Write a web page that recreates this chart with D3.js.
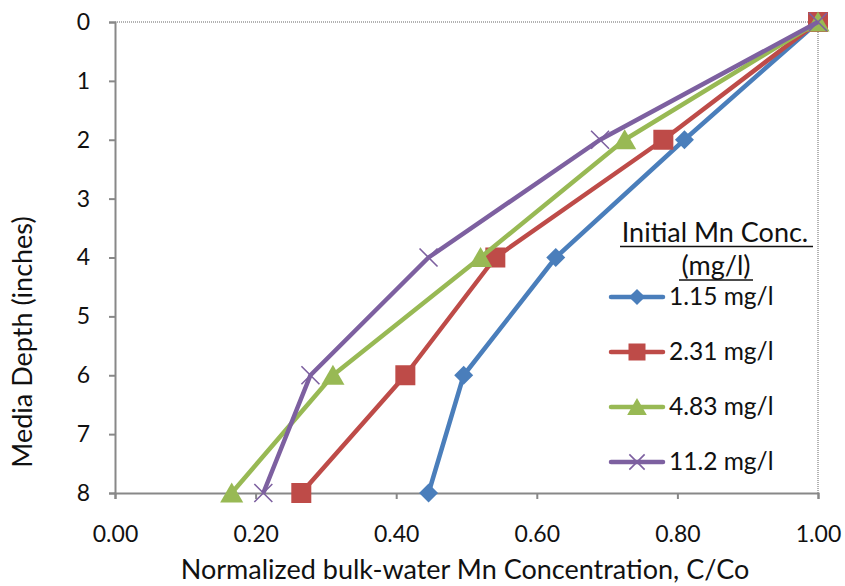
<!DOCTYPE html>
<html>
<head>
<meta charset="utf-8">
<script src="https://cdn.jsdelivr.net/npm/d3@7"></script>
<style>
  body { margin: 0; background: #fff; }
  svg { font-family: Lato, "Open Sans", sans-serif; }
</style>
</head>
<body>
<script>
const depths = [0, 2, 4, 6, 8];
const seriesNames = ["1.15 mg/l", "2.31 mg/l", "4.83 mg/l", "11.2 mg/l"];
const conc115 = [1.0, 0.81, 0.627, 0.496, 0.446];
const conc231 = [1.0, 0.78, 0.541, 0.413, 0.265];
const conc483 = [1.0, 0.725, 0.52, 0.31, 0.166];
const conc112 = [1.0, 0.69, 0.446, 0.278, 0.211];
const xTicks = [0, 0.2, 0.4, 0.6, 0.8, 1.0];
const yTicks = [0, 1, 2, 3, 4, 5, 6, 7, 8];

const colors = ["#4A7EBB", "#BE4B48", "#98B954", "#7D60A0"];
const markers = ["diamond", "square", "triangle", "cross"];
const allSeries = [conc115, conc231, conc483, conc112].map((vals, i) => ({
  name: seriesNames[i], color: colors[i], marker: markers[i],
  points: vals.map((v, j) => ({x: v, y: depths[j]}))
}));

const width = 845, height = 586;
const margin = {left: 115, right: 27, top: 22, bottom: 93};

const svg = d3.select("body").append("svg")
    .attr("width", width)
    .attr("height", height);

const x = d3.scaleLinear().domain([0, 1]).range([margin.left, width - margin.right]);
const y = d3.scaleLinear().domain([0, 8]).range([margin.top, height - margin.bottom]);

// dotted top and right borders
svg.append("line")
    .attr("x1", x(0)).attr("x2", x(1)).attr("y1", y(0)).attr("y2", y(0))
    .attr("stroke", "#999").attr("stroke-width", 1.5).attr("stroke-dasharray", "1,1");
svg.append("line")
    .attr("x1", x(1)).attr("x2", x(1)).attr("y1", y(0)).attr("y2", y(8))
    .attr("stroke", "#999").attr("stroke-width", 1.5).attr("stroke-dasharray", "1,1");

const xAxis = svg.append("g")
    .attr("transform", `translate(0,${y(8)})`)
    .call(d3.axisBottom(x).tickValues(xTicks).tickFormat(d3.format(".2f")).tickSize(6).tickPadding(27));
const yAxis = svg.append("g")
    .attr("transform", `translate(${x(0)},0)`)
    .call(d3.axisLeft(y).tickValues(yTicks).tickSize(6).tickPadding(19));

[xAxis, yAxis].forEach(g => {
  g.select(".domain").attr("stroke", "#888").attr("stroke-width", 2);
  g.selectAll(".tick line").attr("stroke", "#888").attr("stroke-width", 2);
  g.selectAll(".tick text").attr("font-size", 23).attr("fill", "#111")
    .attr("font-family", "Lato, 'Open Sans', sans-serif");
});

const line = d3.line().x(d => x(d.x)).y(d => y(d.y));

function drawMarker(g, type, color, cx, cy, s) {
  if (type === "diamond") {
    g.append("path").attr("d", `M${cx},${cy - s}L${cx + s},${cy}L${cx},${cy + s}L${cx - s},${cy}Z`)
      .attr("fill", color);
  } else if (type === "square") {
    g.append("rect").attr("x", cx - s).attr("y", cy - s).attr("width", 2 * s).attr("height", 2 * s)
      .attr("fill", color);
  } else if (type === "triangle") {
    g.append("path").attr("d", `M${cx},${cy - s}L${cx + s * 1.1},${cy + s * 0.9}L${cx - s * 1.1},${cy + s * 0.9}Z`)
      .attr("fill", color);
  } else {
    g.append("path").attr("d", `M${cx - s},${cy - s}L${cx + s},${cy + s}M${cx - s},${cy + s}L${cx + s},${cy - s}`)
      .attr("stroke", color).attr("stroke-width", 1.6).attr("fill", "none");
  }
}
const markerSize = {diamond: 9.5, square: 10, triangle: 10.5, cross: 9};

allSeries.forEach(s => {
  svg.append("path")
      .datum(s.points)
      .attr("d", line)
      .attr("fill", "none")
      .attr("stroke", s.color)
      .attr("stroke-width", 4.5)
      .attr("stroke-linejoin", "round");
  const g = svg.append("g");
  s.points.forEach(p => drawMarker(g, s.marker, s.color, x(p.x), y(p.y), markerSize[s.marker]));
});

// legend
const lg = svg.append("g");
lg.append("text").attr("x", 715).attr("y", 242).attr("text-anchor", "middle")
    .attr("font-size", 27).attr("fill", "#111").text("Initial Mn Conc.");
lg.append("line").attr("x1", 620).attr("x2", 813).attr("y1", 246.5).attr("y2", 246.5)
    .attr("stroke", "#111").attr("stroke-width", 1.5);
lg.append("text").attr("x", 716).attr("y", 275).attr("text-anchor", "middle")
    .attr("font-size", 27).attr("fill", "#111").text("(mg/l)");
lg.append("line").attr("x1", 679).attr("x2", 753).attr("y1", 280).attr("y2", 280)
    .attr("stroke", "#111").attr("stroke-width", 1.5);

allSeries.forEach((s, i) => {
  const ly = 297 + i * 55;
  lg.append("line").attr("x1", 611).attr("x2", 663).attr("y1", ly).attr("y2", ly)
      .attr("stroke", s.color).attr("stroke-width", 4.5).attr("stroke-linecap", "round");
  drawMarker(lg, s.marker, s.color, 637, ly, markerSize[s.marker] * 0.85);
  lg.append("text").attr("x", 669).attr("y", ly + 8).attr("font-size", 24.5)
      .attr("fill", "#111").text(s.name);
});

// axis titles
svg.append("text")
    .attr("x", 465).attr("y", 579)
    .attr("text-anchor", "middle").attr("font-size", 27).attr("fill", "#111")
    .text("Normalized bulk-water Mn Concentration, C/Co");
svg.append("text")
    .attr("transform", `translate(32,342) rotate(-90)`)
    .attr("text-anchor", "middle").attr("font-size", 27).attr("fill", "#111")
    .text("Media Depth (inches)");
</script>
</body>
</html>
